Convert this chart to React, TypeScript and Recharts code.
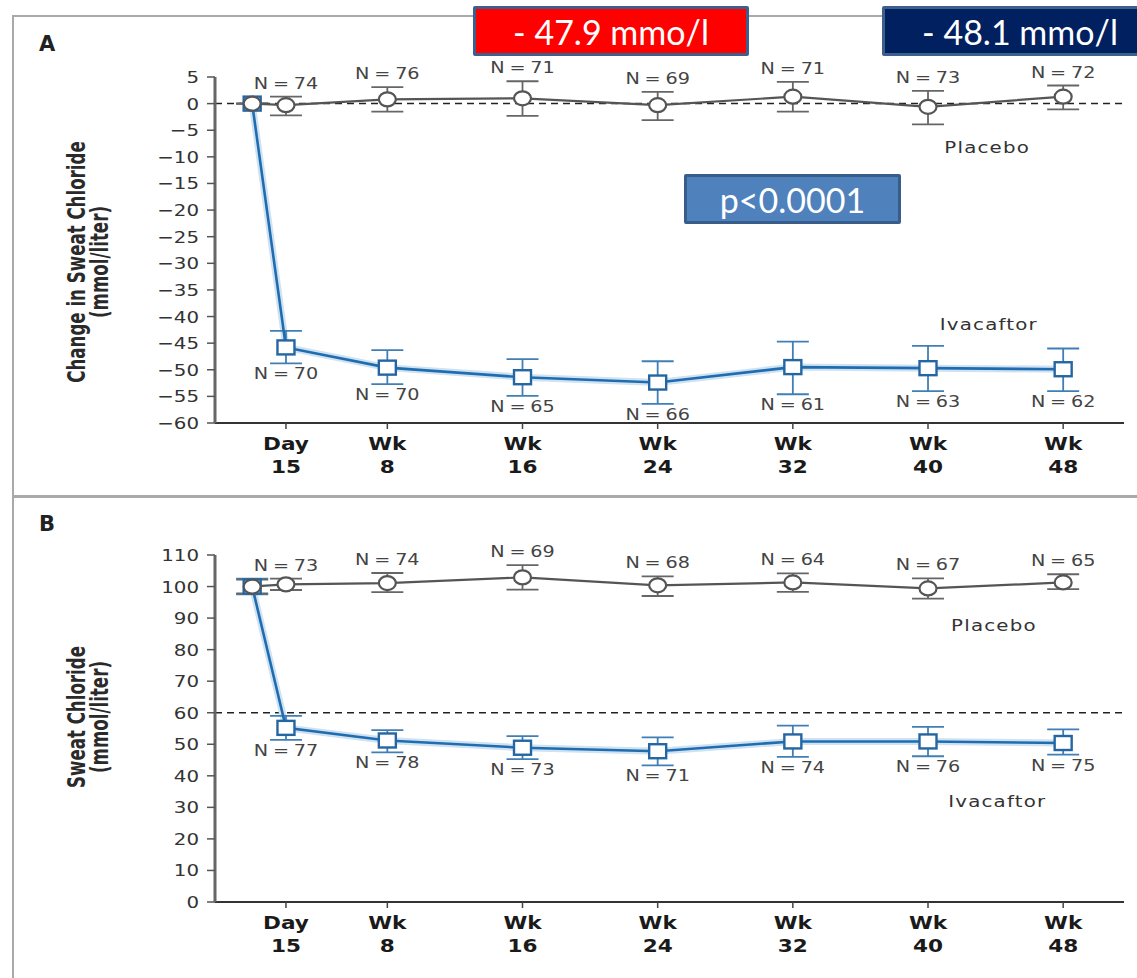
import React from "react";
import { LineChart, Line, XAxis, YAxis, ErrorBar, ReferenceLine, ReferenceDot } from "recharts";

// time points in weeks (0 = baseline, 2 = day 15)
const weeks = [0, 2, 8, 16, 24, 32, 40, 48];
const xTicks = [2, 8, 16, 24, 32, 40, 48];
const xTickTop = ["Day", "Wk", "Wk", "Wk", "Wk", "Wk", "Wk"];
const xTickBottom = ["15", "8", "16", "24", "32", "40", "48"];

// Panel A: change in sweat chloride
const changeTicks = [-60, -55, -50, -45, -40, -35, -30, -25, -20, -15, -10, -5, 0, 5];
const placeboChange = [0, -0.3, 0.8, 1.0, -0.3, 1.3, -0.6, 1.3];
const placeboChangeErr = [[0, 0], [1.9, 1.6], [2.3, 2.3], [3.3, 3.2], [2.8, 2.5], [2.8, 2.8], [3.3, 3.0], [2.4, 2.1]];
const placeboChangeN = [null, 74, 76, 71, 69, 71, 73, 72];
const ivaChange = [0, -45.8, -49.6, -51.4, -52.4, -49.5, -49.7, -49.9];
const ivaChangeErr = [[0, 0], [3.0, 3.1], [3.1, 3.3], [3.5, 3.4], [4.0, 4.0], [5.1, 4.8], [4.3, 4.2], [4.1, 3.9]];
const ivaChangeN = [null, 70, 70, 65, 66, 61, 63, 62];

// Panel B: sweat chloride level
const levelTicks = [0, 10, 20, 30, 40, 50, 60, 70, 80, 90, 100, 110];
const placeboLevel = [100, 100.7, 101.1, 102.9, 100.4, 101.3, 99.4, 101.3];
const placeboLevelErr = [[2.2, 2.2], [1.8, 1.8], [2.9, 3.2], [3.9, 3.9], [3.4, 2.8], [3.0, 2.9], [3.2, 3.2], [2.1, 2.6]];
const placeboLevelN = [null, 73, 74, 69, 68, 64, 67, 65];
const ivaLevel = [100, 55.2, 51.2, 48.9, 47.8, 50.9, 50.9, 50.4];
const ivaLevelErr = [[2.5, 2.5], [3.8, 3.8], [3.8, 3.3], [3.6, 3.7], [4.5, 4.4], [4.9, 5.0], [4.7, 4.6], [3.7, 4.3]];
const ivaLevelN = [null, 77, 78, 73, 71, 74, 76, 75];

// where the series names sit, in data units [week, value]
const changeNamePos = { placebo: [43.5, -9.2], iva: [43.6, -42.5] };
const levelNamePos = { placebo: [43.9, 85.8], iva: [44.1, 30.2] };

const FONT = "'DejaVu Sans', sans-serif";
const SX = 1.2; // the original figure is stretched sideways
const GRAY = "#555";
const BLUE = "#1f6db0";

function buildRows(p, pErr, pN, v, vErr, vN) {
  return weeks.map((week, i) => ({
    week,
    placebo: p[i],
    placeboErr: pErr[i],
    placeboTop: p[i] + pErr[i][1],
    placeboN: pN[i],
    iva: v[i],
    ivaErr: vErr[i],
    ivaBottom: v[i] - vErr[i][0],
    ivaN: vN[i],
  }));
}

const changeRows = buildRows(placeboChange, placeboChangeErr, placeboChangeN, ivaChange, ivaChangeErr, ivaChangeN);
const levelRows = buildRows(placeboLevel, placeboLevelErr, placeboLevelN, ivaLevel, ivaLevelErr, ivaLevelN);

const Txt = ({ x, y, anchor = "middle", size = 16, weight = 400, fill = "#333", ls = 0, children }: any) => (
  <g transform={`translate(${x},${y}) scale(${SX},1)`}>
    <text x={0} y={0} textAnchor={anchor} fontSize={size} fontWeight={weight} fill={fill} letterSpacing={ls} fontFamily={FONT}>
      {children}
    </text>
  </g>
);

const fmtNum = (v: number) => (v < 0 ? "\u2212" + Math.abs(v) : String(v));

const YTick = ({ x, y, payload }: any) => (
  <Txt x={x} y={y + 6} anchor="end" size={16.5} fill="#333">
    {fmtNum(payload.value)}
  </Txt>
);

const XTick = ({ x, y, payload }: any) => {
  const i = xTicks.indexOf(payload.value);
  return (
    <g>
      <Txt x={x} y={y + 19} size={18} weight={700} fill="#1a1a1a">{xTickTop[i]}</Txt>
      <Txt x={x} y={y + 42} size={18} weight={700} fill="#1a1a1a">{xTickBottom[i]}</Txt>
    </g>
  );
};

const CircleDot = (props: any) => {
  const { cx, cy, index } = props;
  if (cx == null || cy == null) return <g key={index} />;
  return <ellipse key={index} cx={cx} cy={cy} rx={8.5} ry={7} fill="#fff" stroke={GRAY} strokeWidth={2.2} />;
};

const SquareDot = (props: any) => {
  const { cx, cy, index } = props;
  if (cx == null || cy == null) return <g key={index} />;
  return <rect key={index} x={cx - 8.5} y={cy - 7} width={17} height={14} fill="#fff" stroke="#2466a3" strokeWidth={2.4} />;
};

const nLabel = (field: string, dy: number) => (props: any) => {
  const { cx, cy, payload, index } = props;
  const n = payload ? payload[field] : null;
  if (n == null || cx == null) return <g key={index} />;
  return (
    <g key={index}>
      <Txt x={cx} y={cy + dy} size={16} fill="#444">
        <tspan letterSpacing={4}>N=</tspan>
        <tspan>{n}</tspan>
      </Txt>
    </g>
  );
};

const nameShape = (name: string) => (props: any) => (
  <Txt x={props.cx} y={props.cy} size={16.5} fill="#333" ls={1}>{name}</Txt>
);

function Panel({ rows, ticks, domain, refY, namePos, height, margin }: any) {
  return (
    <LineChart width={1137} height={height} data={rows} margin={margin}>
      <XAxis
        type="number"
        dataKey="week"
        domain={[-2.2, 51.6]}
        ticks={xTicks}
        height={50}
        tick={<XTick />}
        tickSize={6}
        axisLine={{ stroke: "#333", strokeWidth: 1.8 }}
        tickLine={{ stroke: "#444", strokeWidth: 1.5 }}
        allowDataOverflow
      />
      <YAxis
        type="number"
        domain={domain}
        ticks={ticks}
        width={60}
        tick={<YTick />}
        tickSize={8}
        tickMargin={8}
        interval={0}
        axisLine={{ stroke: "#666", strokeWidth: 3 }}
        tickLine={{ stroke: "#555", strokeWidth: 1.5 }}
      />
      <ReferenceLine y={refY} stroke="#222" strokeDasharray="7 5" strokeWidth={1.5} />
      <Line dataKey="iva" stroke="#cfe2f2" strokeWidth={7} dot={false} activeDot={false} isAnimationActive={false} legendType="none" />
      <Line dataKey="iva" stroke={BLUE} strokeWidth={2.6} dot={<SquareDot />} activeDot={false} isAnimationActive={false}>
        <ErrorBar dataKey="ivaErr" width={16} stroke="#3f7fb6" strokeWidth={1.8} direction="y" isAnimationActive={false} />
      </Line>
      <Line dataKey="placebo" stroke={GRAY} strokeWidth={2.2} dot={<CircleDot />} activeDot={false} isAnimationActive={false}>
        <ErrorBar dataKey="placeboErr" width={16} stroke="#666" strokeWidth={1.8} direction="y" isAnimationActive={false} />
      </Line>
      <Line dataKey="placeboTop" stroke="none" dot={nLabel("placeboN", -8)} activeDot={false} isAnimationActive={false} legendType="none" />
      <Line dataKey="ivaBottom" stroke="none" dot={nLabel("ivaN", 16)} activeDot={false} isAnimationActive={false} legendType="none" />
      <ReferenceDot x={namePos.placebo[0]} y={namePos.placebo[1]} r={0} shape={nameShape("Placebo")} />
      <ReferenceDot x={namePos.iva[0]} y={namePos.iva[1]} r={0} shape={nameShape("Ivacaftor")} />
    </LineChart>
  );
}

const boxBase: React.CSSProperties = {
  position: "absolute",
  boxSizing: "border-box",
  color: "#fff",
  fontFamily: "Lato, 'Open Sans', sans-serif",
  fontSize: 34,
  display: "flex",
  alignItems: "center",
  justifyContent: "center",
  border: "3px solid #3e5f8e",
  borderRadius: 2,
  zIndex: 5,
};

const yLabel: React.CSSProperties = {
  position: "absolute",
  transform: "translate(-50%,-50%) rotate(-90deg) scaleY(1.3)",
  whiteSpace: "nowrap",
  fontFamily: "'DejaVu Sans Condensed', 'DejaVu Sans', sans-serif",
  fontWeight: 700,
  fontSize: 18.5,
  color: "#2a2a2a",
  lineHeight: 1,
};

const panelLetter: React.CSSProperties = {
  position: "absolute",
  left: 39,
  fontFamily: FONT,
  fontWeight: 700,
  fontSize: 21,
  lineHeight: 1,
  color: "#222",
};

export default function App() {
  return (
    <div style={{ position: "relative", width: 1137, height: 978, overflow: "hidden", background: "#fff" }}>
      <style>{"body{margin:0}"}</style>
      {/* panel frames */}
      <div style={{ position: "absolute", left: 12, top: 15, width: 1200, height: 482, border: "2.5px solid #a9a9a9", boxSizing: "border-box" }} />
      <div style={{ position: "absolute", left: 12, top: 496, width: 1200, height: 600, border: "2.5px solid #a9a9a9", boxSizing: "border-box" }} />

      <div style={{ ...panelLetter, top: 34 }}>A</div>
      <div style={{ ...panelLetter, top: 514 }}>B</div>

      <div style={{ ...yLabel, left: 78, top: 262 }}>Change in Sweat Chloride</div>
      <div style={{ ...yLabel, left: 101, top: 262 }}>(mmol/liter)</div>
      <div style={{ ...yLabel, left: 78, top: 717 }}>Sweat Chloride</div>
      <div style={{ ...yLabel, left: 101, top: 717 }}>(mmol/liter)</div>

      <div style={{ position: "absolute", left: 0, top: 0 }}>
        <Panel
          rows={changeRows}
          ticks={changeTicks}
          domain={[-60, 5]}
          refY={0}
          namePos={changeNamePos}
          height={497}
          margin={{ top: 77, right: 13, bottom: 24, left: 155 }}
        />
      </div>
      <div style={{ position: "absolute", left: 0, top: 497 }}>
        <Panel
          rows={levelRows}
          ticks={levelTicks}
          domain={[0, 110]}
          refY={60}
          namePos={levelNamePos}
          height={481}
          margin={{ top: 58, right: 13, bottom: 26, left: 155 }}
        />
      </div>

      <div style={{ ...boxBase, left: 473, top: 6, width: 276, height: 50, background: "#ff0000" }}>- 47.9 mmo/l</div>
      <div style={{ ...boxBase, left: 882, top: 6, width: 276, height: 50, background: "#002060" }}>- 48.1 mmo/l</div>
      <div style={{ ...boxBase, left: 684, top: 174, width: 217, height: 50, background: "#4f81bd", borderColor: "#385d8a" }}>p&lt;0.0001</div>
    </div>
  );
}
